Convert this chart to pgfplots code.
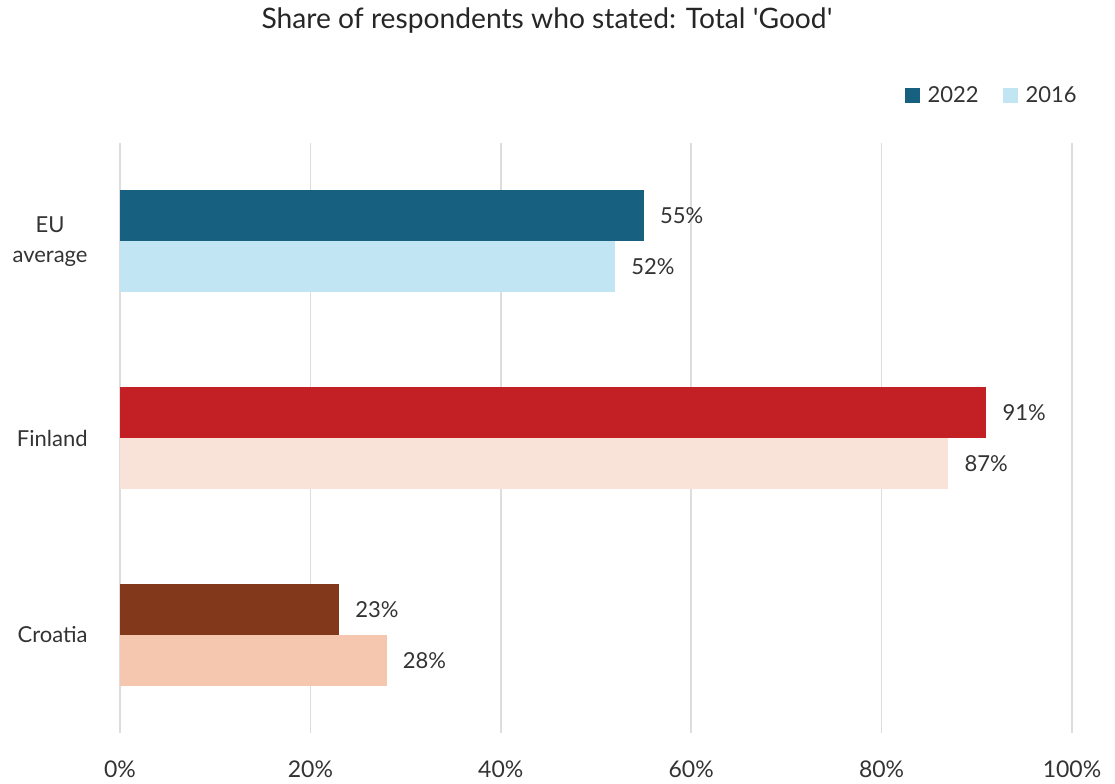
\documentclass[border=0pt]{standalone}
\usepackage{pgfplots}
\pgfplotsset{compat=1.18}
\usepackage{fontspec}
\setmainfont{Lato}[Ligatures=TeXOff]
\definecolor{txt}{HTML}{333333}
\definecolor{eua}{HTML}{17607F}
\definecolor{eub}{HTML}{C2E5F4}
\definecolor{fia}{HTML}{C32026}
\definecolor{fib}{HTML}{F9E3D8}
\definecolor{cra}{HTML}{82381B}
\definecolor{crb}{HTML}{F5C7AE}
\definecolor{grd}{HTML}{DDDDDD}
\pgfplotsset{
  lgsq/.style={legend image code/.code={\fill[##1,draw=none] (0pt,-3.75pt) rectangle (7.5pt,3.75pt); \path (11.5pt,0pt);}},
}
\begin{document}
\begin{tikzpicture}
\begin{axis}[
  at={(0,0)}, anchor=south west,
  scale only axis, width=476pt, height=295pt,
  xbar, bar width=25.5pt,
  xmin=0, xmax=100, ymin=-0.5, ymax=2.5,
  xtick={0,20,40,60,80,100},
  xticklabels={0\%,20\%,40\%,60\%,80\%,100\%},
  ytick={0,1,2},
  yticklabels={Croatia,Finland,{EU\\average}},
  axis line style={draw=none},
  major tick length=0pt,
  xmajorgrids, ymajorgrids=false,
  grid style={color=grd, line width=0.8pt},
  xticklabel style={anchor=base, yshift=-22.25pt, inner sep=0pt, font=\fontsize{11.5}{14}\selectfont, text=txt},
  yticklabel style={align=center, anchor=east, xshift=-16pt, inner sep=0pt, font=\fontsize{11}{15}\selectfont, text=txt},
  /pgf/number format/assume math mode=true,
  point meta=x,
  nodes near coords={\pgfmathprintnumber{\pgfplotspointmeta}\%},
  nodes near coords style={anchor=west, inner sep=0pt, xshift=8pt, font=\fontsize{11}{13}\selectfont, text=txt},
  legend columns=2,
  legend style={draw=none, fill=none, at={(axis description cs:1.0116,1.0797)}, anchor=east,
    nodes={inner sep=0pt, font=\fontsize{11}{13}\selectfont, text=txt},
    /tikz/every even column/.append style={column sep=12pt}},
]
\addplot[fill=eua, draw=none, bar shift=12.75pt, lgsq] coordinates {(55,2)};
\addplot[fill=eub, draw=none, bar shift=-12.75pt, lgsq] coordinates {(52,2)};
\addplot[fill=fia, draw=none, bar shift=12.75pt, forget plot] coordinates {(91,1)};
\addplot[fill=fib, draw=none, bar shift=-12.75pt, forget plot] coordinates {(87,1)};
\addplot[fill=cra, draw=none, bar shift=12.75pt, forget plot] coordinates {(23,0)};
\addplot[fill=crb, draw=none, bar shift=-12.75pt, forget plot] coordinates {(28,0)};
\legend{2022,2016}
\end{axis}
\node[anchor=base, font=\fontsize{14.1}{17}\selectfont, text=black!85] at (213.5pt,352pt) {Share of respondents who stated: Total 'Good'};
\pgfresetboundingbox
\useasboundingbox (-60pt,-25pt) rectangle (497.5pt,366.5pt);
\end{tikzpicture}
\end{document}
